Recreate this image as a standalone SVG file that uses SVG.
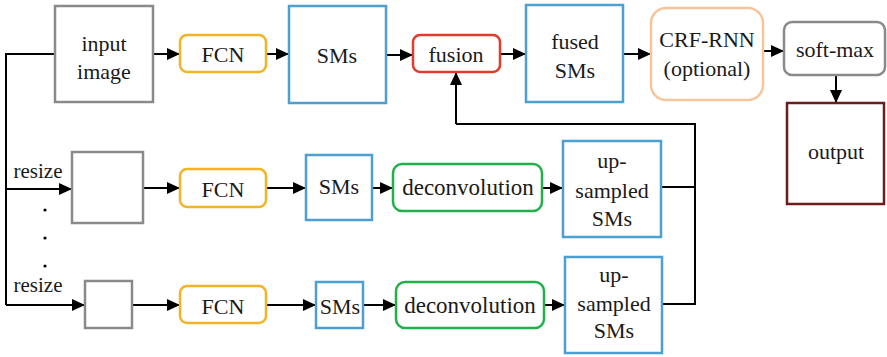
<svg xmlns="http://www.w3.org/2000/svg" width="887" height="357" viewBox="0 0 887 357" font-family="'Liberation Serif', serif">
<defs>
<marker id="ah" viewBox="0 0 13 12" refX="13" refY="6" markerWidth="13" markerHeight="12" markerUnits="userSpaceOnUse" orient="auto">
<path d="M0,0 L13,6 L0,12 Z" fill="#000"/>
</marker>
<style>
text{font-family:'Liberation Serif',serif;font-size:22px;fill:#1a1a1a;text-anchor:middle}
.gray{fill:#fff;stroke:#8a8a8a;stroke-width:2.5}
.fcn{fill:#fff;stroke:#f2b425;stroke-width:2.5}
.sm{fill:#fff;stroke:#4d9fd2;stroke-width:2.5}
.fus{fill:#fff;stroke:#e23b2e;stroke-width:2.5}
.crf{fill:#fff;stroke:#f8c49a;stroke-width:2.5}
.dec{fill:#fff;stroke:#22b04b;stroke-width:2.5}
.out{fill:#fff;stroke:#6b1d1d;stroke-width:2.5}
.c{fill:none;stroke:#000;stroke-width:2}
.a{marker-end:url(#ah)}
.big{font-size:23px}
.rs{font-size:21px}
</style>
</defs>
<g id="connectors">
<path class="c" d="M55,54 H6 V305"/>
<path class="c a" d="M153,54 H180"/>
<path class="c a" d="M266,54 H289"/>
<path class="c a" d="M386,55 H413"/>
<path class="c a" d="M500,54 H526"/>
<path class="c a" d="M623,54 H651"/>
<path class="c a" d="M763,51 H784"/>
<path class="c a" d="M836,75 V103"/>
<path class="c a" d="M6,189 H72"/>
<path class="c a" d="M143,188 H180"/>
<path class="c a" d="M266,188 H306"/>
<path class="c a" d="M372,188 H393"/>
<path class="c a" d="M542,188 H563"/>
<path class="c a" d="M6,305 H85"/>
<path class="c a" d="M132,305 H180"/>
<path class="c a" d="M266,305 H316"/>
<path class="c a" d="M363,305 H396"/>
<path class="c a" d="M544,305 H565"/>
<path class="c" d="M661,187 H695"/>
<path class="c" d="M662,304 H695 V124 H456"/>
<path class="c a" d="M456,124 V72"/>
</g>
<g id="input-image"><rect class="gray" x="55" y="6" width="98" height="96"/><text x="104" y="51">input</text><text x="104" y="79">image</text></g>
<g id="fcn1"><rect class="fcn" x="180" y="35" width="86" height="37" rx="7"/><text x="223" y="62">FCN</text></g>
<g id="sms1"><rect class="sm" x="289" y="6" width="97" height="97"/><text x="337" y="63">SMs</text></g>
<g id="fusion"><rect class="fus" x="413" y="35" width="87" height="37" rx="7"/><text x="456" y="62">fusion</text></g>
<g id="fused-sms"><rect class="sm" x="526" y="5" width="97" height="97"/><text x="575" y="49">fused</text><text x="575" y="78">SMs</text></g>
<g id="crf-rnn"><rect class="crf" x="651" y="8" width="112" height="92" rx="15"/><text x="707" y="47">CRF-RNN</text><text x="707" y="76">(optional)</text></g>
<g id="soft-max"><rect class="gray" x="784" y="22" width="101" height="53" rx="8"/><text x="835" y="57">soft-max</text></g>
<g id="output"><rect class="out" x="787" y="103" width="97" height="101"/><text x="836" y="159">output</text></g>
<g id="resize-label-1"><text class="rs" x="38" y="178">resize</text></g>
<g id="dots"><circle cx="45" cy="210" r="1.6" fill="#000"/><circle cx="45" cy="238" r="1.6" fill="#000"/><circle cx="45" cy="266" r="1.6" fill="#000"/></g>
<g id="resized-image-1"><rect class="gray" x="72" y="152" width="71" height="71"/></g>
<g id="fcn2"><rect class="fcn" x="180" y="169" width="86" height="38" rx="7"/><text x="223" y="197">FCN</text></g>
<g id="sms2"><rect class="sm" x="306" y="155" width="66" height="65"/><text x="339" y="194">SMs</text></g>
<g id="deconv1"><rect class="dec" x="393" y="164" width="149" height="47" rx="9"/><text class="big" x="468" y="195">deconvolution</text></g>
<g id="upsampled1"><rect class="sm" x="563" y="141" width="98" height="96"/><text x="612" y="168">up-</text><text x="612" y="198">sampled</text><text x="612" y="226">SMs</text></g>
<g id="resize-label-2"><text class="rs" x="38" y="292">resize</text></g>
<g id="resized-image-2"><rect class="gray" x="85" y="281" width="47" height="47"/></g>
<g id="fcn3"><rect class="fcn" x="180" y="286" width="86" height="37" rx="7"/><text x="223" y="314">FCN</text></g>
<g id="sms3"><rect class="sm" x="316" y="282" width="47" height="46"/><text x="340" y="314">SMs</text></g>
<g id="deconv2"><rect class="dec" x="396" y="282" width="148" height="46" rx="9"/><text class="big" x="470" y="313">deconvolution</text></g>
<g id="upsampled2"><rect class="sm" x="565" y="257" width="97" height="96"/><text x="614" y="282">up-</text><text x="614" y="311">sampled</text><text x="614" y="338">SMs</text></g>
</svg>
